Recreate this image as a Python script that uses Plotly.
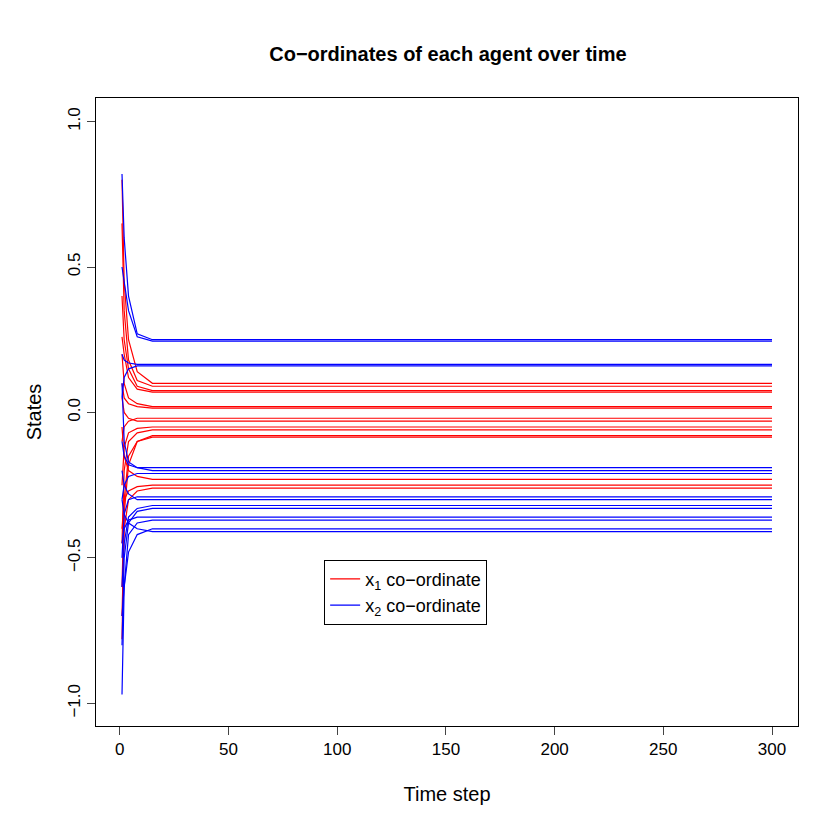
import plotly.graph_objects as go

time_points = [1, 2, 4, 8, 15, 300]
red_series = [
    [0.80, 0.45, 0.25, 0.14, 0.10, 0.10],
    [0.65, 0.35, 0.18, 0.11, 0.09, 0.09],
    [0.40, 0.25, 0.15, 0.09, 0.075, 0.075],
    [0.26, 0.20, 0.12, 0.08, 0.07, 0.07],
    [0.20, 0.10, 0.05, 0.03, 0.02, 0.02],
    [0.10, 0.05, 0.03, 0.02, 0.015, 0.015],
    [-0.10, -0.05, -0.03, -0.02, -0.02, -0.02],
    [0.05, 0.0, -0.02, -0.03, -0.03, -0.03],
    [-0.25, -0.12, -0.07, -0.055, -0.05, -0.05],
    [-0.45, -0.2, -0.1, -0.07, -0.06, -0.06],
    [-0.60, -0.3, -0.15, -0.1, -0.08, -0.08],
    [-0.78, -0.35, -0.18, -0.1, -0.085, -0.085],
    [-0.05, -0.15, -0.2, -0.22, -0.23, -0.23],
    [-0.4, -0.3, -0.27, -0.255, -0.25, -0.25],
    [-0.7, -0.4, -0.3, -0.27, -0.26, -0.26],
]
blue_series = [
    [0.82, 0.6, 0.4, 0.27, 0.25, 0.25],
    [0.5, 0.45, 0.35, 0.26, 0.245, 0.245],
    [0.2, 0.18, 0.17, 0.165, 0.165, 0.165],
    [0.05, 0.12, 0.15, 0.16, 0.16, 0.16],
    [-0.1, -0.15, -0.18, -0.19, -0.19, -0.19],
    [0.1, -0.1, -0.17, -0.19, -0.2, -0.2],
    [-0.3, -0.25, -0.22, -0.21, -0.21, -0.21],
    [-0.5, -0.35, -0.3, -0.29, -0.29, -0.29],
    [-0.2, -0.25, -0.28, -0.3, -0.3, -0.3],
    [-0.6, -0.45, -0.36, -0.33, -0.32, -0.32],
    [-0.8, -0.5, -0.38, -0.34, -0.33, -0.33],
    [-0.45, -0.4, -0.37, -0.36, -0.36, -0.36],
    [-0.97, -0.6, -0.42, -0.38, -0.37, -0.37],
    [-0.7, -0.6, -0.48, -0.42, -0.40, -0.40],
    [-0.3, -0.35, -0.38, -0.4, -0.41, -0.41],
]

fig = go.Figure()
for i, s in enumerate(red_series):
    fig.add_trace(go.Scatter(x=time_points, y=s, mode="lines", line=dict(color="red", width=1.2),
                             name="x<sub>1</sub> co−ordinate", showlegend=(i == 0), legendgroup="r"))
for i, s in enumerate(blue_series):
    fig.add_trace(go.Scatter(x=time_points, y=s, mode="lines", line=dict(color="blue", width=1.2),
                             name="x<sub>2</sub> co−ordinate", showlegend=(i == 0), legendgroup="b"))

fig.update_layout(
    width=830, height=830, paper_bgcolor="white", plot_bgcolor="white",
    margin=dict(l=88, r=40, t=90, b=112),
    font=dict(family="Liberation Sans, Arial", size=17, color="black"),
    title=dict(text="<b>Co−ordinates of each agent over time</b>", x=0.53, xanchor="center", y=0.945, yanchor="middle", font=dict(size=20)),
    xaxis=dict(range=[-10.96, 311.96], tickvals=[0, 50, 100, 150, 200, 250, 300], ticks="outside", ticklen=8,
               showgrid=False, zeroline=False, showline=True, linecolor="black", mirror=True,
               title=dict(text="Time step", standoff=28)),
    yaxis=dict(range=[-1.078, 1.081], tickvals=[-1, -0.5, 0, 0.5, 1], ticktext=["−1.0", "−0.5", "0.0", "0.5", "1.0"],
               tickangle=-90, ticks="outside", ticklen=8,
               showgrid=False, zeroline=False, showline=True, linecolor="black", mirror=True,
               title=dict(text="States", standoff=18)),
    legend=dict(x=0.325, y=0.265, xanchor="left", yanchor="top", bordercolor="black", borderwidth=1,
                bgcolor="white", font=dict(size=18), tracegroupgap=0),
)
fig.write_html("out.html")
